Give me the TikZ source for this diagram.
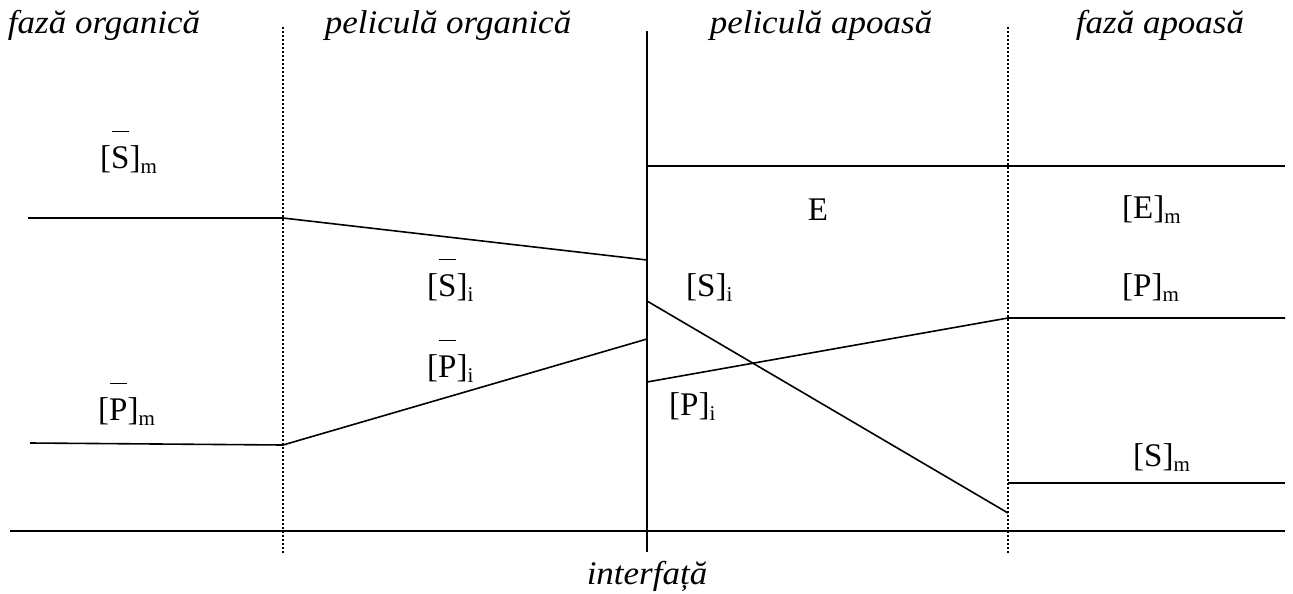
\documentclass[tikz,border=0pt]{standalone}
\usepackage{fontspec}
\setmainfont{Liberation Serif}
\usepackage{graphicx}
\newcommand{\hs}[1]{\scalebox{1.06}[1]{#1}}
\newcommand{\ls}[1]{\scalebox{1.0}[1]{#1}}
\newcommand{\ovl}[1]{\makebox[0pt][l]{\hspace{1pt}\rule[36pt]{0.5em}{1.5pt}}#1}
\newcommand{\sbs}[1]{\raisebox{-5pt}{\fontsize{21}{23}\selectfont #1}}
\tikzset{
  lab/.style={font=\fontsize{33}{36}\selectfont, inner sep=0pt, anchor=base west},
  head/.style={font=\fontsize{33}{36}\selectfont\itshape, inner sep=0pt, anchor=base},
  thin/.style={line width=1.6pt},
  thick/.style={line width=2.8pt},
  dotline/.style={line width=1.4pt, dash pattern=on 2pt off 2pt}
}
\begin{document}
\begin{tikzpicture}[x=1pt,y=-1pt]
\useasboundingbox (0,0) rectangle (1293,594);
% headings
\node[head] (h1) at (104,34) {\hs{fază organică}};
\node[head] (h2) at (448,34) {\hs{peliculă organică}};
\node[head] (h3) at (821,34) {\hs{peliculă apoasă}};
\node[head] (h4) at (1160,34) {\hs{fază apoasă}};
\node[head] (h5) at (647,584) {\hs{interfață}};
% frame coordinates
\coordinate (d1t) at (283,27); \coordinate (d1b) at (283,554);
\coordinate (d2t) at (1008,27); \coordinate (d2b) at (1008,554);
\coordinate (it) at (647,31); \coordinate (ib) at (647,552);
\coordinate (bl) at (10,531); \coordinate (br) at (1285,531);
\draw[dotline] (d1t) -- (d1b);
\draw[dotline] (d2t) -- (d2b);
\draw[thick] (it) -- (ib);
\draw[thick] (bl) -- (br);
% profile coordinates
\coordinate (oS1) at (28,218); \coordinate (oS2) at (283,218); \coordinate (oS3) at (647,260);
\coordinate (oP1) at (30,443); \coordinate (oP2) at (283,445); \coordinate (oP3) at (647,339);
\coordinate (aS1) at (647,301); \coordinate (aS2) at (1008,513);
\coordinate (Sm1) at (1008,483); \coordinate (Sm2) at (1285,483);
\coordinate (aP1) at (647,382); \coordinate (aP2) at (1008,318); \coordinate (aP3) at (1285,318);
\coordinate (E1) at (647,166); \coordinate (E2) at (1285,166);
\draw[thin] (oS1) -- (oS2) -- (oS3);
\draw[thin] (oP1) -- (oP2) -- (oP3);
\draw[thin] (aS1) -- (aS2);
\draw[thin] (Sm1) -- (Sm2);
\draw[thin] (aP1) -- (aP2) -- (aP3);
\draw[thin] (E1) -- (E2);
% labels
\node[lab] (lSm) at (100,168) {\ls{[\ovl{S}]\sbs{m}}};
\node[lab] (lPm) at (98,420) {\ls{[\ovl{P}]\sbs{m}}};
\node[lab] (lSi) at (427,296) {\ls{[\ovl{S}]\sbs{i}}};
\node[lab] (lPi) at (427,377) {\ls{[\ovl{P}]\sbs{i}}};
\node[lab] (aSi) at (686,296) {\ls{[S]\sbs{i}}};
\node[lab] (aPi) at (669,415) {\ls{[P]\sbs{i}}};
\node[lab, anchor=base] (lE) at (818,220) {\ls{E}};
\node[lab] (lEm) at (1122,218) {\ls{[E]\sbs{m}}};
\node[lab] (lPmA) at (1122,296) {\ls{[P]\sbs{m}}};
\node[lab] (lSmA) at (1133,466) {\ls{[S]\sbs{m}}};
\end{tikzpicture}
\end{document}
